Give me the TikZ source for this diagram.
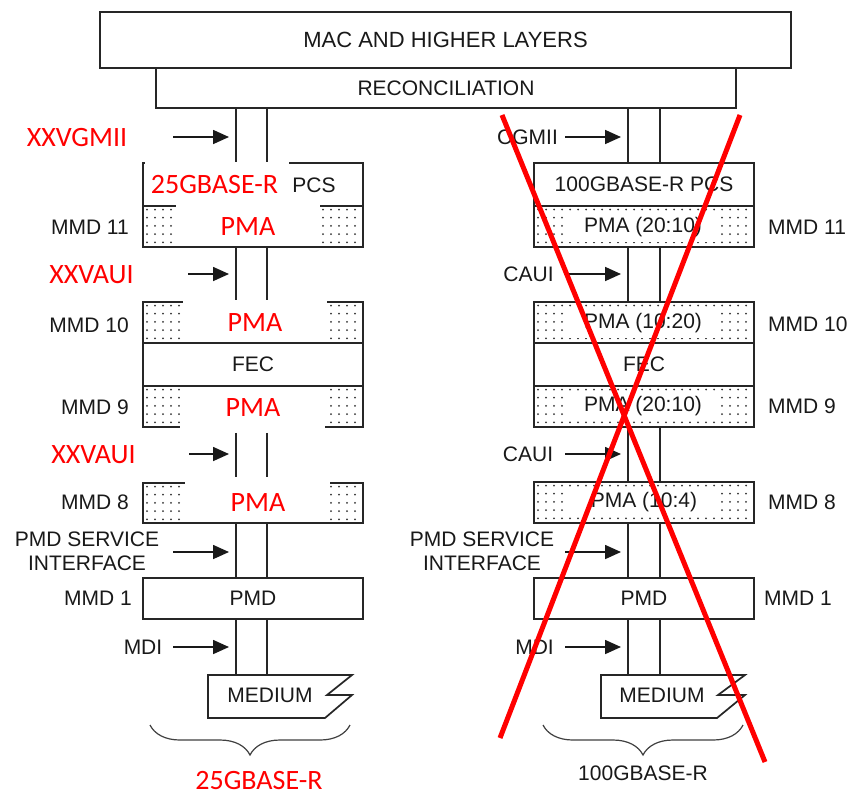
\documentclass[tikz,border=0pt]{standalone}
\usepackage{fontspec}
\setmainfont{Liberation Sans}
\newfontfamily\redfont{Carlito}
\usetikzlibrary{arrows.meta,decorations.pathreplacing}

\newcommand\dotgrid[4]{%
  \begin{scope}
    \clip ({#1+2},{#2+2}) rectangle ({#3-2},{#4-2});
    \foreach \i in {0,...,28}{\foreach \j in {0,...,5}{%
      \fill[black!80] ({#1+4+8*\i},{#2+3.5+8.2*\j}) circle[radius=1pt];}}
  \end{scope}}

\tikzset{
  box/.style={draw=black!85, line width=1.7pt, inner sep=0pt, minimum width=220pt,
    font=\fontsize{21}{23}\selectfont, text=black!90},
  lbl/.style={font=\fontsize{21}{24}\selectfont, text=black!90, inner sep=0pt},
  redlbl/.style={font=\redfont\fontsize{28}{30}\selectfont, text=red, inner sep=0pt},
  stack/.style={draw=black!85, line width=1.7pt},
  arr/.style={draw=black!90, line width=1.7pt, -{Triangle[length=16pt,width=14pt]}, shorten >=7pt},
  bracestyle/.style={draw=black!75, line width=1.2pt, decorate,
    decoration={brace, mirror, amplitude=30pt}},
  cross/.style={draw=red, line width=5pt},
  pmabg/.style={lbl, fill=white, minimum width=150pt, minimum height=30pt},
}

\begin{document}
\begin{tikzpicture}[x=1pt,y=-1pt]
\useasboundingbox (0,0) rectangle (850,796);
\fill[white] (0,0) rectangle (850,796);

% column line positions
\coordinate (lxa) at (236,0);
\coordinate (lxb) at (267,0);
\coordinate (rxa) at (628,0);
\coordinate (rxb) at (660,0);

% dotted fills
\dotgrid{143}{206}{363}{247}
\dotgrid{143}{302}{363}{343}
\dotgrid{143}{386}{363}{427}
\dotgrid{143}{483}{363}{523}
\dotgrid{534}{206}{754}{247}
\dotgrid{534}{302}{754}{343}
\dotgrid{534}{386}{754}{427}
\dotgrid{534}{482}{754}{523}

% top boxes
\node[box, minimum width=691pt, minimum height=56pt, font=\fontsize{22}{24}\selectfont] (mac) at (445.5,40) {MAC AND HIGHER LAYERS};
\node[box, minimum width=580pt, minimum height=40pt] (recon) at (446,88) {RECONCILIATION};

% left column boxes
\node[box, minimum height=43pt] (pcsL) at (253,184.5) {};
\node[box, minimum height=41pt] (pma11L) at (253,226.5) {};
\node[box, minimum height=41pt] (pma10L) at (253,322.5) {};
\node[box, minimum height=43pt] (fecL) at (253,364.5) {FEC};
\node[box, minimum height=41pt] (pma9L) at (253,406.5) {};
\node[box, minimum height=40pt] (pma8L) at (253,503) {};
\node[box, minimum height=41pt] (pmdL) at (253,598.5) {PMD};

% right column boxes
\node[box, minimum height=43pt] (pcsR) at (644,184.5) {100GBASE-R PCS};
\node[box, minimum height=41pt] (pma11R) at (644,226.5) {};
\node[box, minimum height=41pt] (pma10R) at (644,322.5) {};
\node[box, minimum height=43pt] (fecR) at (644,364.5) {FEC};
\node[box, minimum height=41pt] (pma9R) at (644,406.5) {};
\node[box, minimum height=41pt] (pma8R) at (644,502.5) {};
\node[box, minimum height=41pt] (pmdR) at (644,598.5) {PMD};

% right PMA labels
\node[pmabg] (pma11Rt) at (643,227) {PMA (20:10)};
\node[pmabg] (pma10Rt) at (643,323) {PMA (10:20)};
\node[pmabg] (pma9Rt) at (643,406) {PMA (20:10)};
\node[pmabg] (pma8Rt) at (644,502) {PMA (10:4)};

% mediums
\coordinate (medLtop) at (280,675);
\coordinate (medRtop) at (673,675);
\draw[stack] (208,675) -- (352,675) -- (327,695) -- (352,695) -- (325,718) -- (208,718) -- cycle;
\draw[stack] (601,675) -- (745,675) -- (718,695) -- (745,695) -- (717,718) -- (601,718) -- cycle;
\node[lbl] (medLt) at (270,695) {MEDIUM};
\node[lbl] (medRt) at (662,695) {MEDIUM};

% stack lines left
\foreach \xc in {lxa,lxb}{
  \draw[stack] (\xc |- recon.south) -- (\xc |- pcsL.north);
  \draw[stack] (\xc |- pma11L.south) -- (\xc |- pma10L.north);
  \draw[stack, shorten <=5pt, shorten >=5pt] (\xc |- pma9L.south) -- (\xc |- pma8L.north);
  \draw[stack] (\xc |- pma8L.south) -- (\xc |- pmdL.north);
  \draw[stack] (\xc |- pmdL.south) -- (\xc |- medLtop);
}
% stack lines right
\foreach \xc in {rxa,rxb}{
  \draw[stack] (\xc |- recon.south) -- (\xc |- pcsR.north);
  \draw[stack] (\xc |- pma11R.south) -- (\xc |- pma10R.north);
  \draw[stack] (\xc |- pma9R.south) -- (\xc |- pma8R.north);
  \draw[stack] (\xc |- pma8R.south) -- (\xc |- pmdR.north);
  \draw[stack] (\xc |- pmdR.south) -- (\xc |- medRtop);
}

% white patches behind pasted red labels (left)
\fill[white] (145,162) rectangle (289,204.5);
\fill[white] (176,204) rectangle (320,245.5);
\fill[white] (183,300) rectangle (327,341.5);
\fill[white] (180,388) rectangle (325,429);
\fill[white] (185,481) rectangle (330,521.5);

% left labels
\node[redlbl] (xxvgmii) at (77,138) {XXVGMII};
\node[redlbl] (pcsLr) at (214.5,185) {25GBASE-R};
\node[lbl] (pcsLt) at (314,185) {PCS};
\node[redlbl] (pma11Lt) at (248,227) {PMA};
\node[lbl, anchor=east] (mmd11L) at (129,227) {MMD 11};
\node[redlbl] (xxvaui1) at (91.5,275) {XXVAUI};
\node[lbl, anchor=east] (mmd10L) at (129,325) {MMD 10};
\node[redlbl] (pma10Lt) at (255,323) {PMA};
\node[lbl, anchor=east] (mmd9L) at (129,407) {MMD 9};
\node[redlbl] (pma9Lt) at (253,408) {PMA};
\node[redlbl] (xxvaui2) at (93.5,455) {XXVAUI};
\node[lbl, anchor=east] (mmd8L) at (129,502) {MMD 8};
\node[redlbl] (pma8Lt) at (258,503) {PMA};
\node[lbl, align=center] (pmdsiL) at (87,551) {PMD SERVICE\\INTERFACE};
\node[lbl, anchor=east] (mmd1L) at (132,598) {MMD 1};
\node[lbl] (mdiL) at (143,647) {MDI};
\node[redlbl] (baseL) at (259,780) {25GBASE-R};

% right labels
\node[lbl] (cgmii) at (527.5,137) {CGMII};
\node[lbl, anchor=west] (mmd11R) at (768,227) {MMD 11};
\node[lbl] (caui1) at (528.5,274) {CAUI};
\node[lbl, anchor=west] (mmd10R) at (768,324) {MMD 10};
\node[lbl, anchor=west] (mmd9R) at (768,406) {MMD 9};
\node[lbl] (caui2) at (528,454) {CAUI};
\node[lbl, anchor=west] (mmd8R) at (768,502) {MMD 8};
\node[lbl, align=center] (pmdsiR) at (482,551) {PMD SERVICE\\INTERFACE};
\node[lbl, anchor=west] (mmd1R) at (764,598) {MMD 1};
\node[lbl] (mdiR) at (534.5,647) {MDI};
\node[lbl] (baseR) at (643,773) {100GBASE-R};

% arrows left
\coordinate (aL1) at (173,137);
\coordinate (aL2) at (188,274);
\coordinate (aL3) at (189,454);
\coordinate (aL4) at (173,552);
\coordinate (aL5) at (173,647);
\foreach \c in {aL1,aL2,aL3,aL4,aL5}{\draw[arr] (\c) -- (lxa |- \c);}
% arrows right
\coordinate (aR1) at (565,137);
\coordinate (aR2) at (565,274);
\coordinate (aR3) at (565,454);
\coordinate (aR4) at (565,552);
\coordinate (aR5) at (565,647);
\foreach \c in {aR1,aR2,aR3,aR4,aR5}{\draw[arr] (\c) -- (rxa |- \c);}

% braces
\coordinate (brL1) at (150,725);
\coordinate (brL2) at (350,725);
\coordinate (brR1) at (543,725);
\coordinate (brR2) at (743,725);
\draw[bracestyle] (brL1) -- (brL2);
\draw[bracestyle] (brR1) -- (brR2);

% red cross
\coordinate (x1a) at (502,115);
\coordinate (x1b) at (765,762);
\coordinate (x2a) at (740,115);
\coordinate (x2b) at (500,738);
\draw[cross] (x1a) -- (x1b);
\draw[cross] (x2a) -- (x2b);
\end{tikzpicture}
\end{document}
